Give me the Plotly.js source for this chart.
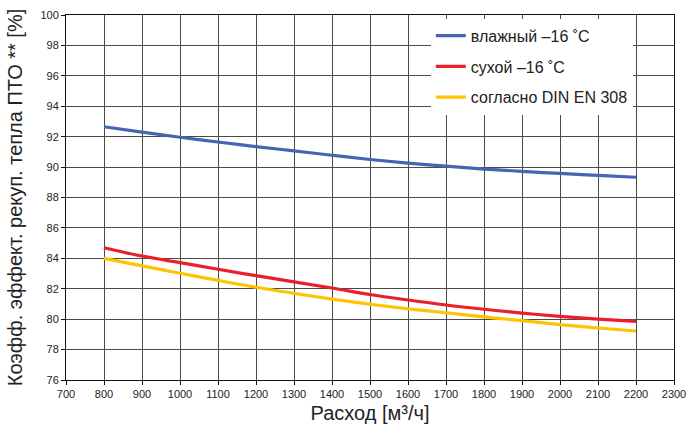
<!DOCTYPE html>
<html>
<head>
<meta charset="utf-8">
<script src="https://cdn.plot.ly/plotly-3.0.1.min.js"></script>
<style>html,body{margin:0;padding:0;background:#fff;}#chart{width:688px;height:428px;}</style>
</head>
<body>
<div id="chart"></div>
<script>
const flow = [800, 900, 1000, 1100, 1200, 1300, 1400, 1500, 1600, 1700, 1800, 1900, 2000, 2100, 2200];
const wet16 = [92.65, 92.3, 91.96, 91.65, 91.35, 91.06, 90.78, 90.5, 90.26, 90.06, 89.87, 89.72, 89.58, 89.45, 89.33];
const dry16 = [84.7, 84.15, 83.72, 83.28, 82.86, 82.45, 82.05, 81.62, 81.26, 80.93, 80.65, 80.4, 80.18, 80.0, 79.85];
const din308 = [84.0, 83.5, 83.02, 82.55, 82.1, 81.7, 81.32, 80.98, 80.68, 80.42, 80.15, 79.9, 79.64, 79.42, 79.22];
const seriesNames = ['влажный \u201316 \u02daC', 'сухой \u201316 \u02daC', 'согласно DIN EN 308'];
const xTicks = [700, 800, 900, 1000, 1100, 1200, 1300, 1400, 1500, 1600, 1700, 1800, 1900, 2000, 2100, 2200, 2300];
const yTicks = [76, 78, 80, 82, 84, 86, 88, 90, 92, 94, 96, 98, 100];

const colors = ['#4565b2', '#ea1f29', '#fdc400'];
const font = '"Liberation Sans", Arial, sans-serif';
const traces = [wet16, dry16, din308].map((ys, i) => ({
  x: flow, y: ys, type: 'scatter', mode: 'lines', name: seriesNames[i],
  legendgroup: 'g' + i,
  line: {color: colors[i], width: 3.2, shape: 'spline'}
}));

const layout = {
  width: 688, height: 428,
  margin: {l: 66, r: 14, t: 15, b: 48},
  paper_bgcolor: '#fff', plot_bgcolor: '#fff',
  font: {family: font, color: '#222'},
  showlegend: true,
  legend: {
    x: 0.6, y: 0.99, xanchor: 'left', yanchor: 'top',
    bgcolor: '#fff', borderwidth: 0,
    font: {size: 16, family: font, color: '#222'},
    tracegroupgap: 7, itemwidth: 30
  },
  xaxis: {
    range: [700, 2300], tickvals: xTicks, ticktext: xTicks.map(String),
    showgrid: true, gridcolor: '#4a4a4a', gridwidth: 1,
    showline: true, linecolor: '#111', linewidth: 1, mirror: true,
    ticks: 'outside', ticklen: 4, tickcolor: '#111',
    tickfont: {size: 11, family: font, color: '#222'},
    zeroline: false,
    title: {text: 'Расход [м\u00b3/ч]', font: {size: 20, family: font, color: '#222'}, standoff: 6}
  },
  yaxis: {
    range: [76, 100], tickvals: yTicks, ticktext: yTicks.map(String),
    showgrid: true, gridcolor: '#4a4a4a', gridwidth: 1,
    showline: true, linecolor: '#111', linewidth: 1, mirror: true,
    ticks: 'outside', ticklen: 4, tickcolor: '#111',
    tickfont: {size: 11, family: font, color: '#222'},
    zeroline: false,
    title: {text: 'Коэфф. эффект. рекуп. тепла ПТО ** [%]', font: {size: 20, family: font, color: '#222'}, standoff: 12}
  }
};

Plotly.newPlot('chart', traces, layout, {displayModeBar: false, staticPlot: true});
</script>
</body>
</html>
